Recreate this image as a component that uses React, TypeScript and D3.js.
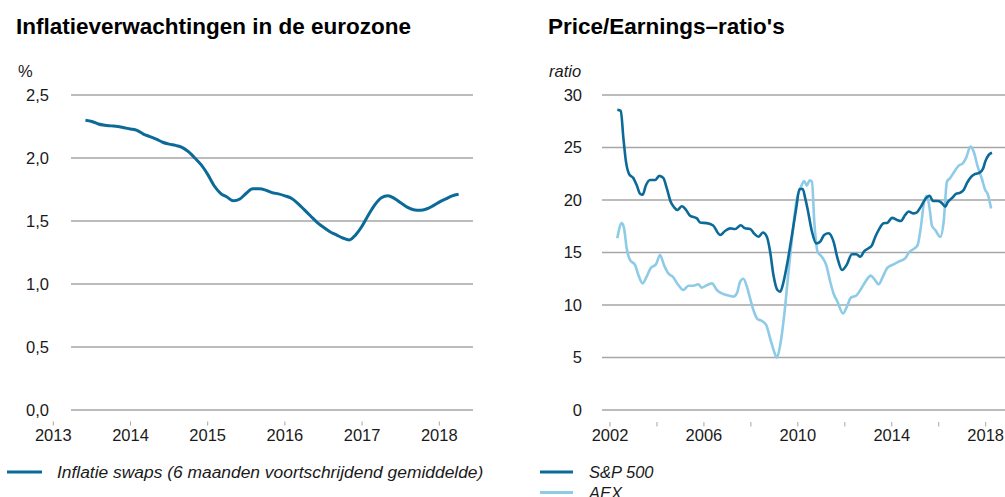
import React from "react";
import * as d3 from "d3";

// ---------- Data: left chart (monthly, starting June 2013) ----------
const swapStart = 2013 + 5 / 12;
const swapValues = [
  2.30, 2.29, 2.27, 2.26, 2.255, 2.25, 2.24,
  2.23, 2.22, 2.19, 2.17, 2.15, 2.125, 2.11, 2.10, 2.085, 2.05, 2.00, 1.945,
  1.87, 1.78, 1.72, 1.69, 1.66, 1.675, 1.72, 1.755, 1.755, 1.745, 1.725, 1.715,
  1.70, 1.68, 1.64, 1.59, 1.54, 1.49, 1.45, 1.415, 1.39, 1.365, 1.35, 1.39,
  1.46, 1.55, 1.63, 1.685, 1.70, 1.68, 1.645, 1.61, 1.59, 1.585, 1.595, 1.62,
  1.65, 1.675, 1.70, 1.712,
];
const leftYTicks = [0, 0.5, 1.0, 1.5, 2.0, 2.5];
const leftXTicks = [2013, 2014, 2015, 2016, 2017, 2018];

// ---------- Data: right chart ----------
const spYears = [
  2002.31, 2002.46, 2002.57, 2002.68, 2002.82, 2002.99, 2003.14, 2003.28, 2003.39, 2003.53,
  2003.71, 2003.92, 2004.10, 2004.27, 2004.42, 2004.59, 2004.73, 2004.87, 2005.06, 2005.24,
  2005.41, 2005.70, 2005.84, 2006.12, 2006.38, 2006.69, 2006.90, 2007.12, 2007.33, 2007.57,
  2007.75, 2007.97, 2008.14, 2008.32, 2008.51, 2008.68, 2008.82, 2008.96, 2009.13, 2009.25,
  2009.39, 2009.56, 2009.75, 2009.93, 2010.07, 2010.21, 2010.31, 2010.41, 2010.60, 2010.78,
  2010.95, 2011.12, 2011.31, 2011.52, 2011.69, 2011.88, 2012.09, 2012.30, 2012.49, 2012.66,
  2012.83, 2013.01, 2013.16, 2013.30, 2013.48, 2013.65, 2013.82, 2014.01, 2014.22, 2014.39,
  2014.57, 2014.72, 2014.90, 2015.07, 2015.24, 2015.43, 2015.61, 2015.76, 2015.95, 2016.10,
  2016.28, 2016.38, 2016.57, 2016.75, 2016.92, 2017.06, 2017.20, 2017.38, 2017.56, 2017.74,
  2017.89, 2017.98, 2018.13, 2018.27,
];
const spValues = [
  28.6, 28.5, 25.9, 23.65, 22.45, 22.1, 21.4, 20.6, 20.5, 21.4,
  21.9, 21.9, 22.3, 22.1, 21.1, 19.8, 19.3, 19.05, 19.4, 19.05,
  18.5, 18.25, 17.85, 17.8, 17.6, 16.67, 17.05, 17.3, 17.24, 17.6,
  17.3, 17.24, 16.8, 16.5, 16.9, 16.5, 15.08, 12.86, 11.43, 11.27,
  12.2, 14.1, 16.67, 19.2, 21.05, 21.05, 20.2, 19.2, 17.0, 15.87,
  16.03, 16.67, 16.83, 16.03, 14.44, 13.33, 13.87, 14.83, 14.83, 14.6,
  15.14, 15.4, 15.71, 16.5, 17.3, 17.78, 17.84, 18.3, 18.1, 18.0,
  18.57, 18.9, 18.73, 18.83, 19.37, 20.1, 20.4, 19.9, 19.9, 19.78,
  19.37, 19.78, 20.2, 20.6, 20.7, 20.95, 21.6, 22.2, 22.48, 22.6,
  23.0, 23.65, 24.3, 24.5,
];
const aexYears = [
  2002.31, 2002.50, 2002.60, 2002.71, 2002.85, 2003.07, 2003.21, 2003.39, 2003.56, 2003.73,
  2003.96, 2004.13, 2004.30, 2004.49, 2004.67, 2004.91, 2005.12, 2005.34, 2005.55, 2005.76,
  2005.91, 2006.05, 2006.34, 2006.55, 2006.76, 2006.97, 2007.26, 2007.40, 2007.54, 2007.68,
  2007.83, 2007.97, 2008.11, 2008.28, 2008.47, 2008.65, 2008.82, 2008.99, 2009.11, 2009.25,
  2009.42, 2009.56, 2009.75, 2009.96, 2010.10, 2010.27, 2010.38, 2010.50, 2010.60, 2010.70,
  2010.84, 2011.02, 2011.21, 2011.38, 2011.52, 2011.69, 2011.92, 2012.09, 2012.26, 2012.49,
  2012.66, 2012.87, 2013.11, 2013.25, 2013.44, 2013.62, 2013.82, 2014.08, 2014.29, 2014.57,
  2014.76, 2014.93, 2015.10, 2015.24, 2015.38, 2015.50, 2015.61, 2015.71, 2015.85, 2016.07,
  2016.21, 2016.35, 2016.49, 2016.66, 2016.85, 2017.03, 2017.17, 2017.35, 2017.49, 2017.66,
  2017.84, 2017.98, 2018.08, 2018.23,
];
const aexValues = [
  16.35, 17.8, 17.3, 15.4, 14.3, 13.8, 12.86, 12.06, 12.7, 13.5,
  13.87, 14.76, 13.8, 13.0, 12.7, 11.9, 11.43, 11.84, 11.84, 11.97,
  11.65, 11.8, 12.06, 11.43, 11.1, 10.95, 10.8, 11.1, 12.2, 12.5,
  11.75, 10.6, 9.5, 8.67, 8.48, 8.1, 6.83, 5.56, 4.98, 6.2,
  9.05, 12.2, 16.35, 20.16, 21.05, 21.8, 21.36, 21.87, 21.75, 17.94,
  15.08, 14.6, 13.8, 12.2, 11.1, 10.3, 9.2, 9.84, 10.7, 10.9,
  11.43, 12.2, 12.8, 12.48, 11.97, 12.7, 13.56, 13.87, 14.13, 14.44,
  15.08, 15.33, 15.71, 17.46, 19.84, 20.4, 19.2, 17.56, 17.14, 16.5,
  17.94, 21.75, 22.1, 22.7, 23.27, 23.5, 24.03, 25.08, 24.6, 23.17,
  22.0, 20.95, 20.6, 19.2,
];
const rightYTicks = [0, 5, 10, 15, 20, 25, 30];
const rightXTicks = [2002, 2004, 2006, 2008, 2010, 2012, 2014, 2016, 2018];
const rightXLabels = [2002, 2006, 2010, 2014, 2018];

const DARK = "#0b6a98";
const LIGHT = "#8ecbe7";
const GRID = "#a6a6a6";
const TEXT = "#1a1a1a";
const FONT = "Liberation Sans, Arial, Helvetica, sans-serif";
const FS = 16.5;

export default function App() {
  // Left scales
  const lx = d3.scaleLinear().domain([2013, 2018]).range([53.3, 439.3]);
  const ly = d3.scaleLinear().domain([0, 2.5]).range([410, 95]);
  const swapData = swapValues.map((v, i) => ({ x: swapStart + i / 12, y: v }));
  const lline = d3
    .line<{ x: number; y: number }>()
    .x((d) => lx(d.x))
    .y((d) => ly(d.y))
    .curve(d3.curveMonotoneX);

  // Right scales
  const rx = d3.scaleLinear().domain([2002, 2018]).range([610, 985.7]);
  const ry = d3.scaleLinear().domain([0, 30]).range([410, 95]);
  const spData = spYears.map((x, i) => ({ x, y: spValues[i] }));
  const aexData = aexYears.map((x, i) => ({ x, y: aexValues[i] }));
  const rline = d3
    .line<{ x: number; y: number }>()
    .x((d) => rx(d.x))
    .y((d) => ry(d.y))
    .curve(d3.curveMonotoneX);

  const fmtLeft = (v: number) => v.toFixed(1).replace(".", ",");

  return (
    <svg
      width={1005}
      height={497}
      style={{ position: "absolute", left: 0, top: 0, background: "#fff" }}
      fontFamily={FONT}
    >
      {/* ---------- Left chart ---------- */}
      <text x={16} y={34} fontSize={22.5} fontWeight="bold" fill="#000">
        Inflatieverwachtingen in de eurozone
      </text>
      <text x={18} y={77} fontSize={FS} fill={TEXT}>
        %
      </text>
      {leftYTicks.map((t) => (
        <g key={"lg" + t}>
          <line x1={71} x2={473} y1={ly(t)} y2={ly(t)} stroke={GRID} strokeWidth={1.3} />
          <text x={49} y={ly(t)} dy="0.36em" textAnchor="end" fontSize={FS} fill={TEXT}>
            {fmtLeft(t)}
          </text>
        </g>
      ))}
      {leftXTicks.map((t) => (
        <g key={"lx" + t}>
          <line x1={lx(t)} x2={lx(t)} y1={421.5} y2={425.5} stroke={GRID} strokeWidth={1} />
          <text x={lx(t)} y={441} textAnchor="middle" fontSize={FS} fill={TEXT}>
            {t}
          </text>
        </g>
      ))}
      <path d={lline(swapData) || ""} fill="none" stroke={DARK} strokeWidth={3} strokeLinejoin="round" />
      <line x1={7} x2={42} y1={472} y2={472} stroke={DARK} strokeWidth={3} />
      <text x={57} y={478} fontSize={17.4} fontStyle="italic" fill={TEXT}>
        Inflatie swaps (6 maanden voortschrijdend gemiddelde)
      </text>

      {/* ---------- Right chart ---------- */}
      <text x={548} y={34} fontSize={22.5} fontWeight="bold" fill="#000">
        Price/Earnings–ratio's
      </text>
      <text x={549} y={77} fontSize={FS} fontStyle="italic" fill={TEXT}>
        ratio
      </text>
      {rightYTicks.map((t) => (
        <g key={"rg" + t}>
          <line x1={602} x2={1005} y1={ry(t)} y2={ry(t)} stroke={GRID} strokeWidth={1.3} />
          <text x={582} y={ry(t)} dy="0.36em" textAnchor="end" fontSize={FS} fill={TEXT}>
            {t}
          </text>
        </g>
      ))}
      {rightXTicks.map((t) => (
        <line key={"rt" + t} x1={rx(t)} x2={rx(t)} y1={422} y2={426.5} stroke={GRID} strokeWidth={1} />
      ))}
      {rightXLabels.map((t) => (
        <text key={"rl" + t} x={rx(t)} y={441} textAnchor="middle" fontSize={FS} fill={TEXT}>
          {t}
        </text>
      ))}
      <path d={rline(aexData) || ""} fill="none" stroke={LIGHT} strokeWidth={2.6} strokeLinejoin="round" />
      <path d={rline(spData) || ""} fill="none" stroke={DARK} strokeWidth={2.6} strokeLinejoin="round" />
      <line x1={540} x2={573} y1={472} y2={472} stroke={DARK} strokeWidth={3} />
      <text x={589} y={478} fontSize={FS} fontStyle="italic" fill={TEXT}>
        S&amp;P 500
      </text>
      <line x1={540} x2={573} y1={492.5} y2={492.5} stroke={LIGHT} strokeWidth={3} />
      <text x={589} y={499} fontSize={FS} fontStyle="italic" fill={TEXT}>
        AEX
      </text>
    </svg>
  );
}
